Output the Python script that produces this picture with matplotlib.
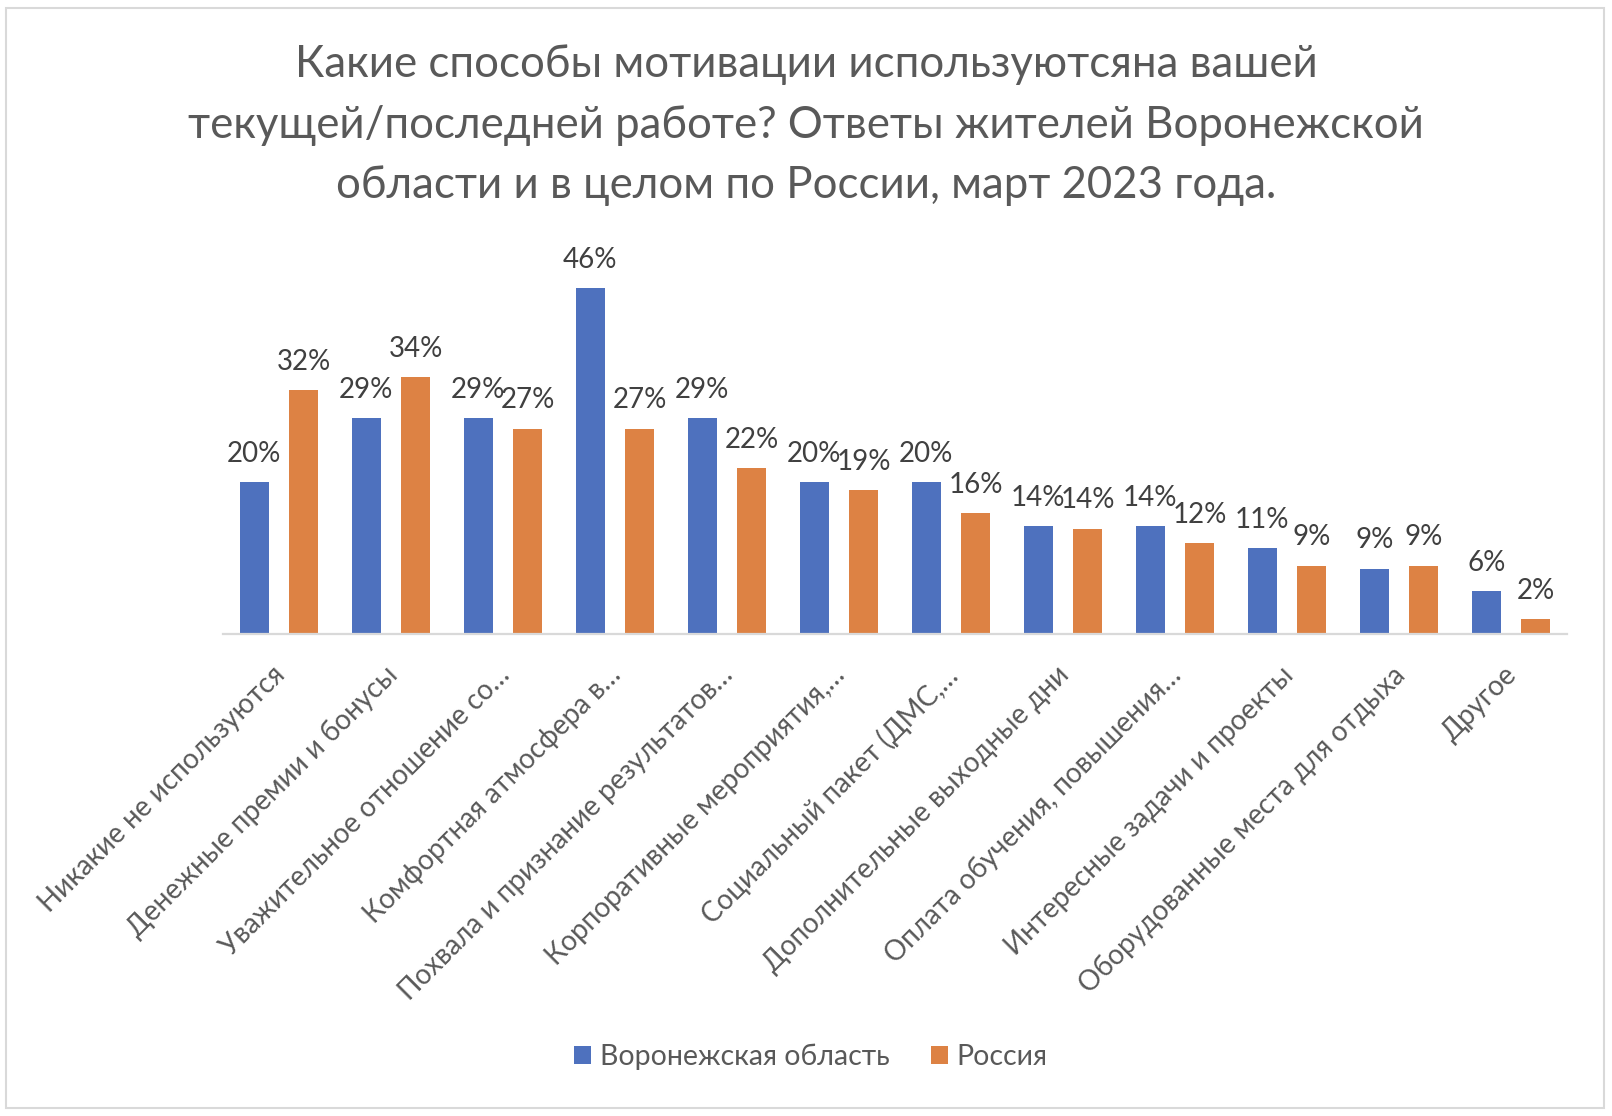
import matplotlib
matplotlib.use("Agg")
import numpy as np
import matplotlib.pyplot as plt
import matplotlib.transforms as mtransforms
from matplotlib.patches import Rectangle

plt.rcParams['font.family'] = ['Lato', 'Open Sans', 'DejaVu Sans']

# data
categories = [
    "Никакие не используются",
    "Денежные премии и бонусы",
    "Уважительное отношение со…",
    "Комфортная атмосфера в…",
    "Похвала и признание результатов…",
    "Корпоративные мероприятия,…",
    "Социальный пакет (ДМС,…",
    "Дополнительные выходные дни",
    "Оплата обучения, повышения…",
    "Интересные задачи и проекты",
    "Оборудованные места для отдыха",
    "Другое",
]
voronezh = [20.2, 28.7, 28.7, 46.0, 28.7, 20.2, 20.2, 14.3, 14.3, 11.4, 8.7, 5.7]
russia = [32.4, 34.2, 27.3, 27.3, 22.1, 19.1, 16.1, 14.0, 12.1, 9.1, 9.1, 2.0]
series_names = ["Воронежская область", "Россия"]

BLUE = "#4E71BE"
ORANGE = "#DD8244"
TEXT_DARK = "#404040"
TEXT_GREY = "#595959"

fig = plt.figure(figsize=(16.12, 11.16), dpi=100)
ax = fig.add_axes([223 / 1612, 482 / 1116, 1344 / 1612, 376 / 1116])

x = np.arange(len(categories))
w = 0.26
b1 = ax.bar(x - 0.22, voronezh, w, color=BLUE, label=series_names[0])
b2 = ax.bar(x + 0.22, russia, w, color=ORANGE, label=series_names[1])

for bars in (b1, b2):
    ax.bar_label(bars, labels=[f"{v:.0f}%" for v in bars.datavalues],
                 padding=11, fontsize=20, color=TEXT_DARK)

ax.set_xlim(-0.5, len(categories) - 0.5)
ax.set_ylim(0, 50)
ax.set_yticks([])
for side in ("left", "right", "top"):
    ax.spines[side].set_visible(False)
ax.spines["bottom"].set_color("#D9D9D9")
ax.spines["bottom"].set_linewidth(1.6)

ax.set_xticks(x)
ax.set_xticklabels(categories, rotation=45, ha="right", va="top",
                   rotation_mode="anchor", fontsize=20, color=TEXT_GREY)
ax.tick_params(axis="x", length=0, pad=20)
shift = mtransforms.ScaledTranslation(-7 / 100, 0, fig.dpi_scale_trans)
for lbl in ax.get_xticklabels():
    lbl.set_transform(lbl.get_transform() + shift)

fig.text(0.5, 1 - 125 / 1116,
         "Какие способы мотивации используютсяна вашей\n"
         "текущей/последней работе? Ответы жителей Воронежской\n"
         "области и в целом по России, март 2023 года.",
         ha="center", va="center", fontsize=31.5, color=TEXT_GREY,
         linespacing=1.58)

fig.legend(handles=[b1, b2], labels=series_names, loc="center",
           bbox_to_anchor=(0.503, 1 - 1057 / 1116), ncol=2, frameon=False,
           fontsize=20.5, labelcolor=TEXT_GREY, handlelength=0.6,
           handleheight=0.6, handletextpad=0.3, columnspacing=1.45)

fig.patches.append(Rectangle((6 / 1612, 8 / 1116), 1598 / 1612, 1100 / 1116,
                             transform=fig.transFigure, fill=False,
                             edgecolor="#D9D9D9", linewidth=1.5))

fig.savefig("out.png", dpi=100, facecolor="white")
